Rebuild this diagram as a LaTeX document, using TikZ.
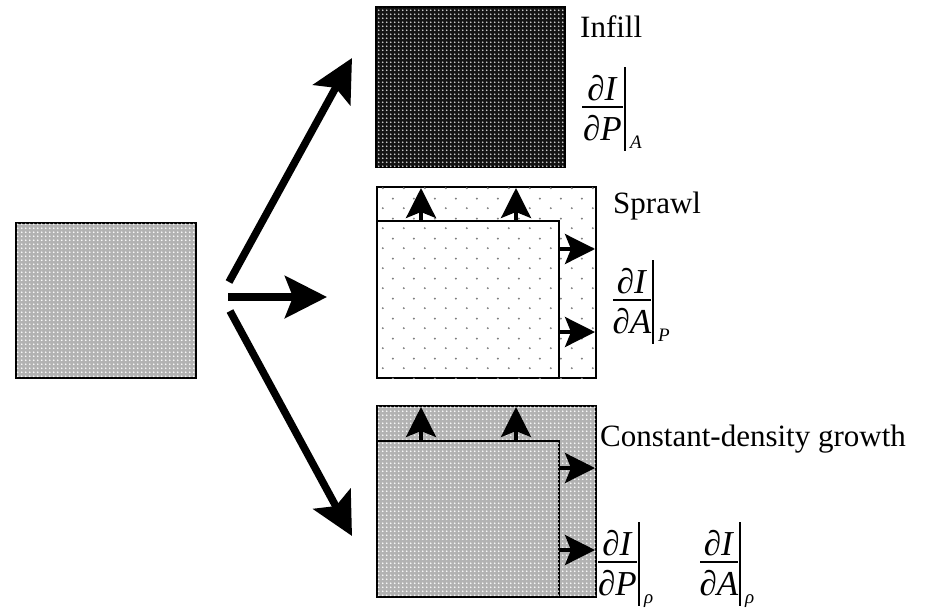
\documentclass[tikz,border=0pt]{standalone}
\usepackage{fontspec}
\setmainfont{Liberation Serif}
\usetikzlibrary{arrows.meta,patterns}
\pgfdeclarepatternformonly{densedots}{\pgfqpoint{0pt}{0pt}}{\pgfqpoint{4.2pt}{4.2pt}}{\pgfqpoint{4.2pt}{4.2pt}}{\pgfpathcircle{\pgfqpoint{2.1pt}{2.1pt}}{1.1pt}\pgfusepath{fill}}
\pgfdeclarepatternformonly{sparsedots}{\pgfqpoint{0pt}{0pt}}{\pgfqpoint{21pt}{20pt}}{\pgfqpoint{21pt}{20pt}}{\pgfpathcircle{\pgfqpoint{5pt}{5pt}}{1.1pt}\pgfpathcircle{\pgfqpoint{15.5pt}{15pt}}{1.1pt}\pgfusepath{fill}}
\newcommand{\derivlabel}[7]{%
  \pgfmathsetmacro{\dlmid}{(#2+#3-2)/2}
  \node[fracpart] (#1num) at (\dlmid,#4-7) {∂\textit{#5}};
  \node[fracpart] (#1den) at (\dlmid,#4+33) {∂\textit{#6}};
  \draw[line width=1.5pt] (#2,#4) -- (#3-2,#4);
  \draw[line width=1.5pt] (#3,#4-40) -- (#3,#4+44);
  \node[subpart] (#1sub) at (#3+5,#4+41) {\textit{#7}};
}
\tikzset{
  box/.style={draw=black, line width=2pt, inner sep=0pt, outer sep=0pt},
  inbox/.style={draw=black, line width=1.6pt, inner sep=0pt, outer sep=0pt},
  graydots/.style={fill=black!30, postaction={pattern=densedots, pattern color=white}},
  darkdots/.style={fill=black!92, postaction={pattern=densedots, pattern color=white!85!black}},
  lightdots/.style={fill=white, postaction={pattern=sparsedots, pattern color=black!50}},
  bigarrow/.style={line width=7.5pt, -{Stealth[length=42pt,width=42pt,inset=8pt]}},
  smallarrow/.style={line width=3.5pt, -{Stealth[length=30pt,width=30pt,inset=6pt]}},
  lbl/.style={anchor=base west, inner sep=0pt, font=\fontsize{31}{36}\selectfont},
  fracpart/.style={anchor=base, inner sep=0pt, font=\fontsize{35}{40}\selectfont},
  subpart/.style={anchor=base west, inner sep=0pt, font=\fontsize{19}{21}\selectfont},
}
\begin{document}
\begin{tikzpicture}[x=1pt,y=-1pt]
\useasboundingbox (0,0) rectangle (928,613);
% source
\node[box, graydots, line width=2.5pt, minimum width=180pt, minimum height=155pt] (src) at (106,300.5) {};
% infill
\node[box, darkdots, minimum width=189pt, minimum height=160pt] (infill) at (470.5,87) {};
% sprawl
\node[box, lightdots, minimum width=219pt, minimum height=191pt] (sprawlout) at (486.5,282.5) {};
\node[inbox, lightdots, minimum width=182pt, minimum height=157pt] (sprawlin) at (468,299.5) {};
% constant density
\node[box, graydots, minimum width=219pt, minimum height=191pt] (cdout) at (486.5,501.5) {};
\node[inbox, graydots, minimum width=182pt, minimum height=156pt] (cdin) at (468,519) {};

% big arrows
\coordinate (a1s) at (229,282); \coordinate (a1e) at (352,58);
\coordinate (a2s) at (228,297); \coordinate (a2e) at (327,297);
\coordinate (a3s) at (230,311); \coordinate (a3e) at (352,536);
\draw[bigarrow] (a1s) -- (a1e);
\draw[bigarrow] (a2s) -- (a2e);
\draw[bigarrow] (a3s) -- (a3e);

% small arrows sprawl
\coordinate (su1s) at (421,221); \coordinate (su1e) at (421,188);
\coordinate (su2s) at (516,221); \coordinate (su2e) at (516,188);
\coordinate (sr1s) at (559,249); \coordinate (sr1e) at (595,249);
\coordinate (sr2s) at (559,332); \coordinate (sr2e) at (595,332);
\draw[smallarrow] (su1s) -- (su1e);
\draw[smallarrow] (su2s) -- (su2e);
\draw[smallarrow] (sr1s) -- (sr1e);
\draw[smallarrow] (sr2s) -- (sr2e);
% small arrows constant density
\coordinate (cu1s) at (421,441); \coordinate (cu1e) at (421,407);
\coordinate (cu2s) at (516,441); \coordinate (cu2e) at (516,407);
\coordinate (cr1s) at (559,468); \coordinate (cr1e) at (595,468);
\coordinate (cr2s) at (559,550); \coordinate (cr2e) at (595,550);
\draw[smallarrow] (cu1s) -- (cu1e);
\draw[smallarrow] (cu2s) -- (cu2e);
\draw[smallarrow] (cr1s) -- (cr1e);
\draw[smallarrow] (cr2s) -- (cr2e);

% labels
\node[lbl] (tinfill) at (580,37) {Infill};
\node[lbl] (tsprawl) at (613,213) {Sprawl};
\node[lbl] (tcd) at (600,446) {Constant-density growth};

\derivlabel{fa}{582}{625}{107}{I}{P}{A}
\derivlabel{fb}{613}{653}{300}{I}{A}{P}
\derivlabel{fc}{598}{639}{562}{I}{P}{ρ}
\derivlabel{fd}{700}{740}{562}{I}{A}{ρ}
\end{tikzpicture}
\end{document}
